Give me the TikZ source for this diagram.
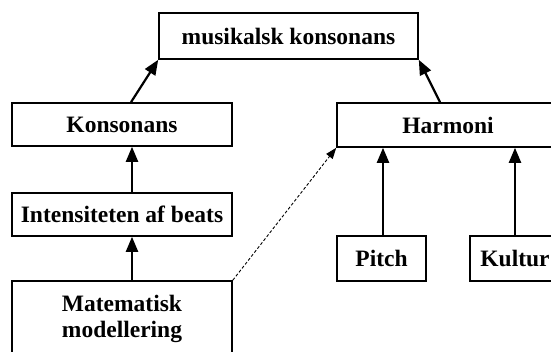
\documentclass[tikz,border=0pt]{standalone}
\usepackage{fontspec}
\setmainfont{Liberation Serif}
\usetikzlibrary{arrows.meta}

\begin{document}
\begin{tikzpicture}[x=1pt, y=-1pt,
    box/.style={draw, line width=1.6pt, fill=white, font=\fontsize{23.5}{27}\selectfont\bfseries,
                inner sep=0pt, align=center},
    link/.style={line width=2.2pt, -{Triangle[length=15pt,width=12pt]}},
    maybe/.style={line width=0.9pt, dash pattern=on 3pt off 2pt, -{Triangle[length=11pt,width=8pt]}}]
        \useasboundingbox (0,0) rectangle (551,352);
        \clip (0,0) rectangle (551,352);

        % Boxes
        \node[box, minimum width=259pt, minimum height=46pt] (musik) at (288.5,36) {musikalsk konsonans};
        \node[box, minimum width=220pt, minimum height=43pt] (kons) at (122,124.5) {Konsonans};
        \node[box, minimum width=220pt, minimum height=43pt] (beats) at (122,214.5) {Intensiteten af beats};
        \node[box, minimum width=220pt, minimum height=76pt] (model) at (122,319) {Matematisk\\[-1pt]modellering};
        \node[box, minimum width=222pt, minimum height=44pt] (harm) at (448,125) {Harmoni};
        \node[box, minimum width=89pt, minimum height=45pt] (pitch) at (381.5,258.5) {Pitch};
        \node[box, minimum width=90pt, minimum height=45pt] (kultur) at (515,258.5) {Kultur};

        % Arrows
        \draw[link] ([xshift=9pt]kons.north) -- (musik.south west);
        \draw[link] ([xshift=-8pt]harm.north) -- (musik.south east);
        \draw[link] ([xshift=10pt]beats.north) -- ([xshift=10pt]kons.south);
        \draw[link] ([xshift=10pt]model.north) -- ([xshift=10pt]beats.south);
        \draw[link] ([xshift=1.5pt]pitch.north) -- ([xshift=-65pt]harm.south);
        \draw[link] (kultur.north) -- ([xshift=67pt]harm.south);

        % Dashed link
        \draw[maybe] (model.north east) -- (harm.south west);
\end{tikzpicture}
\end{document}
